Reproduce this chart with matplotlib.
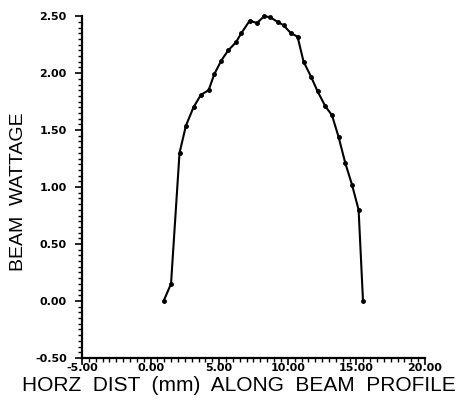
import matplotlib
matplotlib.use("Agg")
import matplotlib.pyplot as plt
from matplotlib.ticker import MultipleLocator, FormatStrFormatter

# Beam profile samples
dist_mm = [0.95, 1.49, 2.11, 2.58, 3.13, 3.67, 4.23, 4.64, 5.15, 5.66, 6.22,
           6.61, 7.22, 7.75, 8.29, 8.72, 9.26, 9.69, 10.23, 10.71, 11.15,
           11.69, 12.17, 12.73, 13.22, 13.70, 14.19, 14.68, 15.16, 15.48]
wattage = [0.00, 0.15, 1.30, 1.54, 1.70, 1.81, 1.85, 1.99, 2.11, 2.20, 2.27,
           2.35, 2.46, 2.44, 2.50, 2.49, 2.45, 2.42, 2.35, 2.32, 2.10,
           1.97, 1.84, 1.71, 1.63, 1.44, 1.21, 1.02, 0.80, 0.00]

x_label = "HORZ  DIST  (mm)  ALONG  BEAM  PROFILE"
y_label = "BEAM  WATTAGE"

plt.rcParams["font.family"] = ["Liberation Sans", "DejaVu Sans"]

fig = plt.figure(figsize=(4.63, 4.04), dpi=100)
ax = fig.add_axes([0.177, 0.114, 0.741, 0.846])

ax.plot(dist_mm, wattage, color="black", lw=1.5, marker="o", ms=2.5,
        clip_on=False)

ax.set_xlim(-5, 20)
ax.set_ylim(-0.5, 2.5)
ax.xaxis.set_major_locator(MultipleLocator(5))
ax.xaxis.set_minor_locator(MultipleLocator(0.5))
ax.yaxis.set_major_locator(MultipleLocator(0.5))
ax.yaxis.set_minor_locator(MultipleLocator(0.05))
ax.xaxis.set_major_formatter(FormatStrFormatter("%.2f"))
ax.yaxis.set_major_formatter(FormatStrFormatter("%.2f"))

for side in ("top", "right"):
    ax.spines[side].set_visible(False)
for side in ("left", "bottom"):
    ax.spines[side].set_linewidth(1.6)

ax.tick_params(which="major", direction="out", length=5, width=1.2)
ax.tick_params(which="minor", direction="out", length=3, width=1.0)
ax.tick_params(axis="x", pad=-1.5)
ax.tick_params(axis="y", pad=6)
for lab in ax.get_xticklabels() + ax.get_yticklabels():
    lab.set_family("DejaVu Sans")
    lab.set_fontweight("bold")
    lab.set_fontsize(8)

fig.text(0.515, 0.045, x_label, ha="center", va="center", fontsize=15)
fig.text(0.04, 0.525, y_label, ha="center", va="center", fontsize=14,
         rotation=90)

fig.savefig("out.png", dpi=100, facecolor="white")
